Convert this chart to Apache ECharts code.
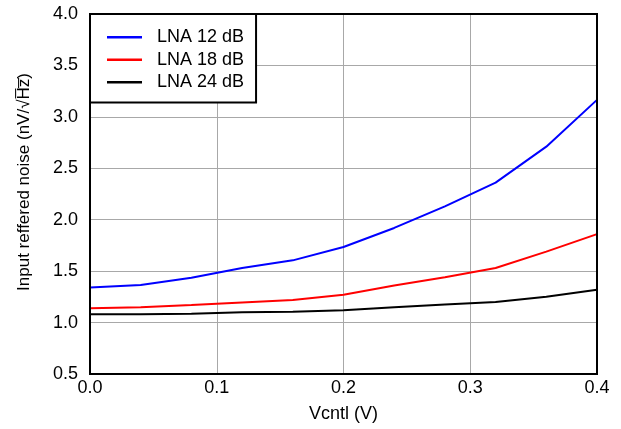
<!DOCTYPE html>
<html>
<head>
<meta charset="utf-8">
<script src="https://cdn.jsdelivr.net/npm/echarts@6/dist/echarts.min.js"></script>
<style>html,body{margin:0;padding:0;background:#fff}#c{width:621px;height:429px}</style>
</head>
<body>
<div id="c"></div>
<script>
var vcntl = [0, 0.04, 0.08, 0.12, 0.16, 0.2, 0.24, 0.28, 0.32, 0.36, 0.4];
var lna12 = [1.34, 1.365, 1.435, 1.53, 1.605, 1.735, 1.92, 2.13, 2.36, 2.71, 3.165];
var lna18 = [1.14, 1.15, 1.17, 1.195, 1.22, 1.27, 1.36, 1.44, 1.53, 1.69, 1.86];
var lna24 = [1.08, 1.08, 1.085, 1.10, 1.105, 1.12, 1.15, 1.175, 1.20, 1.25, 1.32];
var seriesNames = ['LNA 12 dB', 'LNA 18 dB', 'LNA 24 dB'];
var seriesColors = ['#0000ff', '#ff0000', '#000000'];

function pairs(ys) { return vcntl.map(function (x, i) { return [x, ys[i]]; }); }
var allData = [lna12, lna18, lna24];

var font = 'Liberation Sans, Arial, sans-serif';
var chart = echarts.init(document.getElementById('c'), null, {renderer: 'canvas'});
chart.setOption({
  animation: false,
  backgroundColor: '#fff',
  grid: {left: 90, right: 24, top: 14, bottom: 55, show: true, borderColor: '#000', borderWidth: 2, backgroundColor: 'transparent', z: 3},
  legend: {
    left: 90, top: 14, orient: 'vertical',
    backgroundColor: '#fff',
    borderColor: '#000', borderWidth: 2,
    padding: [12, 12, 9, 17],
    icon: 'rect', itemWidth: 35, itemHeight: 2.5, itemGap: 0,
    textStyle: {fontFamily: font, fontSize: 18, color: '#000', lineHeight: 22.5, padding: [0, 0, 0, 10]},
    data: seriesNames
  },
  xAxis: {
    type: 'value', min: 0, max: 0.4, interval: 0.1,
    name: 'Vcntl (V)', nameLocation: 'middle', nameGap: 31,
    nameTextStyle: {fontFamily: font, fontSize: 18, color: '#000'},
    axisLine: {show: false}, axisTick: {show: false},
    axisLabel: {fontFamily: font, fontSize: 18, color: '#000', margin: 5, formatter: function (v) { return v.toFixed(1); }},
    splitLine: {show: true, lineStyle: {color: '#a8a8a8', width: 1}}
  },
  yAxis: {
    type: 'value', min: 0.5, max: 4, interval: 0.5,
    name: 'Input reffered noise (nV/\u221AH\u0305z\u0305)', nameLocation: 'middle', nameGap: 57,
    nameTextStyle: {fontFamily: font, fontSize: 17, color: '#000', padding: [0, 0, 0, 24]},
    axisLine: {show: false}, axisTick: {show: false},
    axisLabel: {fontFamily: font, fontSize: 18, color: '#000', margin: 12, formatter: function (v) { return v.toFixed(1); }},
    splitLine: {show: true, lineStyle: {color: '#a8a8a8', width: 1}}
  },
  series: allData.map(function (d, i) {
    return {
      name: seriesNames[i], type: 'line', data: pairs(d),
      symbol: 'none', smooth: false,
      lineStyle: {color: seriesColors[i], width: 2},
      itemStyle: {color: seriesColors[i]},
      z: 2
    };
  })
});
</script>
</body>
</html>
